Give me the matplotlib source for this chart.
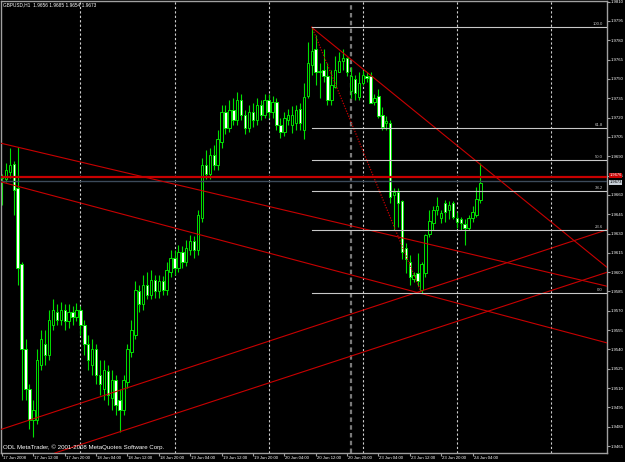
import matplotlib
matplotlib.use("Agg")
import matplotlib.pyplot as plt
import matplotlib.transforms as mtransforms

plt.rcParams['font.family'] = ['Liberation Sans', 'DejaVu Sans']

# GBPUSD H1, bar 0 = 17 Jun 2008 04:00
opens = [1.9673, 1.9672, 1.9678, 1.9684, 1.9665, 1.9606, 1.9540, 1.9509, 1.9485, 1.9485,
         1.9528, 1.9544, 1.9536, 1.9559, 1.9569, 1.9563, 1.9571, 1.9562, 1.9569, 1.9565,
         1.9571, 1.9559, 1.9544, 1.9528, 1.9540, 1.9520, 1.9509, 1.9523, 1.9502, 1.9516,
         1.9501, 1.9493, 1.9515, 1.9538, 1.9551, 1.9585, 1.9575, 1.9590, 1.9582, 1.9594,
         1.9585, 1.9593, 1.9586, 1.9600, 1.9611, 1.9603, 1.9616, 1.9608, 1.9617, 1.9624,
         1.9617, 1.9642, 1.9683, 1.9676, 1.9691, 1.9683, 1.9701, 1.9724, 1.9712, 1.9726,
         1.9718, 1.9734, 1.9722, 1.9712, 1.9724, 1.9718, 1.9730, 1.9722, 1.9734, 1.9724,
         1.9732, 1.9714, 1.9709, 1.9718, 1.9714, 1.9716, 1.9727, 1.9710, 1.9737, 1.9761,
         1.9773, 1.9755, 1.9757, 1.9752, 1.9734, 1.9744, 1.9755, 1.9764, 1.9766, 1.9741,
         1.9750, 1.9736, 1.9747, 1.9752, 1.9752, 1.9732, 1.9737, 1.9722, 1.9716, 1.9716,
         1.9660, 1.9662, 1.9655, 1.9619, 1.9608, 1.9595, 1.9599, 1.9586, 1.9599, 1.9630,
         1.9638, 1.9648, 1.9642, 1.9654, 1.9648, 1.9654, 1.9642, 1.9641, 1.9637, 1.9634,
         1.9642, 1.9644, 1.9656]
highs = [1.9676, 1.9685, 1.9696, 1.9686, 1.9697, 1.9608, 1.9548, 1.9513, 1.9501, 1.9540,
         1.9555, 1.9555, 1.9571, 1.9579, 1.9575, 1.9577, 1.9575, 1.9575, 1.9574, 1.9576,
         1.9574, 1.9563, 1.9551, 1.9548, 1.9544, 1.9532, 1.9532, 1.9528, 1.9524, 1.9520,
         1.9509, 1.9520, 1.9544, 1.9563, 1.9593, 1.9590, 1.9598, 1.9600, 1.9602, 1.9598,
         1.9598, 1.9597, 1.9608, 1.9617, 1.9617, 1.9621, 1.9620, 1.9625, 1.9629, 1.9628,
         1.9648, 1.9689, 1.9695, 1.9696, 1.9699, 1.9710, 1.9730, 1.9730, 1.9734, 1.9735,
         1.9740, 1.9738, 1.9726, 1.9730, 1.9731, 1.9735, 1.9734, 1.9738, 1.9738, 1.9737,
         1.9735, 1.9720, 1.9724, 1.9727, 1.9729, 1.9730, 1.9731, 1.9747, 1.9779, 1.9790,
         1.9784, 1.9762, 1.9773, 1.9762, 1.9757, 1.9768, 1.9771, 1.9773, 1.9767, 1.9759,
         1.9753, 1.9755, 1.9757, 1.9755, 1.9755, 1.9738, 1.9742, 1.9728, 1.9721, 1.9718,
         1.9665, 1.9665, 1.9656, 1.9623, 1.9613, 1.9600, 1.9615, 1.9608, 1.9630, 1.9648,
         1.9651, 1.9658, 1.9648, 1.9656, 1.9655, 1.9655, 1.9647, 1.9643, 1.9641, 1.9644,
         1.9651, 1.9666, 1.9685]
lows = [1.9652, 1.9670, 1.9673, 1.9644, 1.9590, 1.9501, 1.9501, 1.9478, 1.9472, 1.9482,
        1.9524, 1.9528, 1.9532, 1.9555, 1.9559, 1.9559, 1.9555, 1.9557, 1.9559, 1.9562,
        1.9551, 1.9536, 1.9524, 1.9520, 1.9513, 1.9505, 1.9501, 1.9497, 1.9493, 1.9489,
        1.9476, 1.9489, 1.9510, 1.9534, 1.9548, 1.9569, 1.9571, 1.9579, 1.9579, 1.9580,
        1.9580, 1.9582, 1.9582, 1.9596, 1.9598, 1.9600, 1.9603, 1.9605, 1.9613, 1.9611,
        1.9613, 1.9639, 1.9672, 1.9672, 1.9679, 1.9679, 1.9696, 1.9707, 1.9709, 1.9714,
        1.9714, 1.9718, 1.9707, 1.9709, 1.9713, 1.9714, 1.9718, 1.9720, 1.9720, 1.9720,
        1.9710, 1.9704, 1.9706, 1.9714, 1.9708, 1.9710, 1.9710, 1.9703, 1.9735, 1.9753,
        1.9745, 1.9735, 1.9748, 1.9730, 1.9730, 1.9743, 1.9755, 1.9757, 1.9752, 1.9735,
        1.9734, 1.9734, 1.9745, 1.9748, 1.9731, 1.9730, 1.9720, 1.9710, 1.9710, 1.9654,
        1.9633, 1.9635, 1.9610, 1.9599, 1.9590, 1.9592, 1.9589, 1.9584, 1.9596, 1.9627,
        1.9633, 1.9644, 1.9638, 1.9639, 1.9641, 1.9641, 1.9634, 1.9633, 1.9621, 1.9633,
        1.9639, 1.9643, 1.9654]
closes = [1.9674, 1.9679, 1.9683, 1.9664, 1.9603, 1.9540, 1.9509, 1.9485, 1.9493, 1.9532,
          1.9548, 1.9536, 1.9563, 1.9571, 1.9563, 1.9571, 1.9562, 1.9569, 1.9565, 1.9571,
          1.9559, 1.9544, 1.9532, 1.9540, 1.9520, 1.9513, 1.9524, 1.9505, 1.9516, 1.9497,
          1.9493, 1.9516, 1.9540, 1.9555, 1.9586, 1.9575, 1.9590, 1.9582, 1.9594, 1.9585,
          1.9593, 1.9586, 1.9602, 1.9611, 1.9603, 1.9616, 1.9608, 1.9619, 1.9624, 1.9617,
          1.9644, 1.9683, 1.9676, 1.9691, 1.9683, 1.9703, 1.9724, 1.9712, 1.9726, 1.9718,
          1.9734, 1.9722, 1.9712, 1.9724, 1.9718, 1.9730, 1.9722, 1.9734, 1.9724, 1.9732,
          1.9714, 1.9709, 1.9720, 1.9722, 1.9722, 1.9726, 1.9716, 1.9736, 1.9762, 1.9772,
          1.9755, 1.9756, 1.9752, 1.9734, 1.9745, 1.9757, 1.9764, 1.9766, 1.9755, 1.9752,
          1.9739, 1.9747, 1.9753, 1.9751, 1.9731, 1.9735, 1.9721, 1.9713, 1.9717, 1.9658,
          1.9662, 1.9654, 1.9616, 1.9610, 1.9596, 1.9598, 1.9593, 1.9606, 1.9629, 1.9640,
          1.9648, 1.9651, 1.9646, 1.9647, 1.9652, 1.9643, 1.9639, 1.9638, 1.9634, 1.9642,
          1.9647, 1.9657, 1.9669]

tick_bars = [0, 8, 16, 24, 32, 40, 48, 56, 64, 72, 80, 88, 96, 104, 112, 120]
tick_labels = ["17 Jun 2008", "17 Jun 12:00", "17 Jun 20:00", "18 Jun 04:00",
               "18 Jun 12:00", "18 Jun 20:00", "19 Jun 04:00", "19 Jun 12:00",
               "19 Jun 20:00", "20 Jun 04:00", "20 Jun 12:00", "20 Jun 20:00",
               "23 Jun 04:00", "23 Jun 12:00", "23 Jun 20:00", "24 Jun 04:00"]
day_separators = [20, 44, 68, 92, 116, 140]
vline_bar = 89

price_ticks = [1.9810 - 0.0015 * k for k in range(24)]

# trend lines: (bar1, price1, bar2, price2), drawn as infinite lines
trend_lines = [(-0.15, 1.9700, 154.4, 1.9589),
               (-0.15, 1.9670, 154.4, 1.9545),
               (-0.15, 1.9478, 154.4, 1.9633),
               (-0.15, 1.9446, 154.4, 1.9600)]
# ray from the top
high_ray = (79, 1.9790, 155, 1.9602)

fib_start, fib_end = 79, 107
fib_high, fib_low = 1.97906, 1.95836
fib_levels = [0.0, 23.6, 38.2, 50.0, 61.8, 100.0]

ask_price, bid_price = 1.9674, 1.9671
ask_text, bid_text = "1.9676", "1.9673"
title = "GBPUSD,H1  1.9656 1.9685 1.9654 1.9673"

GREEN = '#00e000'
RED = '#c80000'
FS = 3.1

fig = plt.figure(figsize=(6.25, 4.62), dpi=100, facecolor='black')
ax = fig.add_axes([1 / 625, 9 / 462, 606 / 625, 452 / 462], facecolor='black')
ax.set_xlim(-0.25, 154.3)
ax.set_ylim(1.94596, 1.98105)

# separators
for b in day_separators:
    ax.axvline(b, color='#d0d0d0', lw=0.8, ls=(0, (2, 2)), zorder=1)
ax.axvline(vline_bar, color='#7a7a7a', lw=1.6, ls=(0, (2, 1.5)), zorder=1)

# candles
idx = list(range(len(opens)))
ax.vlines(idx, lows, highs, color=GREEN, lw=0.8, zorder=2)
bottoms = [min(o, c) for o, c in zip(opens, closes)]
heights = [abs(c - o) for o, c in zip(opens, closes)]
fills = ['white' if c < o else 'black' for o, c in zip(opens, closes)]
ax.bar(idx, heights, bottom=bottoms, width=0.62, color=fills,
       edgecolor=GREEN, linewidth=0.7, zorder=3)

# horizontal price lines
ax.axhline(ask_price, color=RED, lw=1.6, zorder=4)
ax.axhline(bid_price, color='#3c4a5a', lw=1.0, zorder=4)

# trend lines
for x1, y1, x2, y2 in trend_lines:
    ax.axline((x1, y1), (x2, y2), color=RED, lw=0.8, zorder=4)
ax.plot([high_ray[0], high_ray[2]], [high_ray[1], high_ray[3]], color=RED, lw=0.8, zorder=4)

# fibonacci
ax.plot([fib_start, fib_end], [fib_high, fib_low], color=RED, lw=0.9, ls=(0, (1, 1.2)), zorder=4)
for lv in fib_levels:
    p = fib_low + (fib_high - fib_low) * lv / 100
    ax.plot([fib_start, 160], [p, p], color='#c8c8c8', lw=0.8, zorder=4)
    ax.text(0.993, p + 0.00008, "%.1f" % lv, transform=ax.get_yaxis_transform(),
            ha='right', va='bottom', color='#c8c8c8', fontsize=FS, zorder=5)

# axes styling
for s in ax.spines.values():
    s.set_color('#a0a0a0')
    s.set_linewidth(1)
ax.yaxis.tick_right()
ax.set_yticks(price_ticks)
ax.set_yticklabels(["%.4f" % p for p in price_ticks])
ax.set_xticks(tick_bars)
ax.set_xticklabels(tick_labels)
ax.tick_params(axis='both', colors='#a0a0a0', labelcolor='white', labelsize=FS,
               length=2, width=0.8, pad=0.5)
offset = mtransforms.ScaledTranslation(1 / 100, 0, fig.dpi_scale_trans)
for lab in ax.get_xticklabels():
    lab.set_horizontalalignment('left')
    lab.set_transform(lab.get_transform() + offset)

# price labels on axis
for p, dy, txt, bg, fg in [(ask_price, 0.00012, ask_text, RED, 'white'),
                           (bid_price, -0.00012, bid_text, '#c8d0d8', 'black')]:
    ax.text(1.004, p + dy, txt, transform=ax.get_yaxis_transform(), ha='left', va='center',
            fontsize=2.9, color=fg, clip_on=False,
            bbox=dict(boxstyle='square,pad=0.08', fc=bg, ec='none'))

fig.text(3 / 625, 1 - 5 / 462, title, ha='left', va='center', color='white', fontsize=3.4)
fig.text(3 / 625, 1 - 447 / 462, "ODL MetaTrader, \u00a9 2001-2008 MetaQuotes Software Corp.",
         ha='left', va='center', color='white', fontsize=4.4)

fig.savefig("out.png", dpi=100, facecolor='black')
